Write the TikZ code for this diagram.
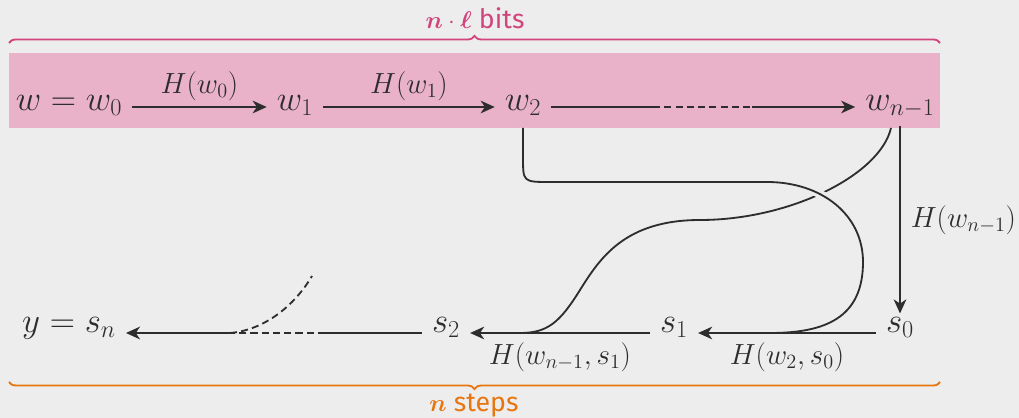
\documentclass[tikz,border=0pt]{standalone}
\usepackage{amsmath}
\usepackage[no-math]{fontspec}
\newfontfamily\labelfont{Fira Sans}
\usetikzlibrary{arrows.meta,decorations.pathreplacing,calc}

\definecolor{bgcol}{RGB}{237,237,237}
\definecolor{bandpink}{RGB}{233,178,200}
\definecolor{bitsmagenta}{RGB}{210,68,124}
\definecolor{stepsorange}{RGB}{232,118,16}
\definecolor{ink}{RGB}{45,45,45}

\tikzset{
  value/.style={text=ink, font=\fontsize{26}{31}\selectfont, inner sep=7pt},
  toprow/.style={value, text height=9pt, text depth=4.3pt},
  botrow/.style={value, text height=6pt, text depth=7.4pt},
  hash/.style={text=ink, font=\fontsize{21.5}{25}\selectfont, inner sep=4pt},
  link/.style={draw=ink, line width=1.3pt},
  hop/.style={link, -{Stealth[length=10pt,width=9pt,inset=3pt]}},
  gap/.style={link, dash pattern=on 5pt off 3pt},
  span/.style={line width=1.3pt, decorate, decoration={brace, amplitude=5pt}},
  tally/.style={font=\fontsize{19}{23}\selectfont\labelfont, anchor=base, inner sep=0pt},
}

\begin{document}
\begin{tikzpicture}[x=0.025cm,y=-0.025cm]
\fill[bgcol] (0,0) rectangle (1019,418);
\useasboundingbox (0,0) rectangle (1019,418);
\fill[bandpink] (9,53) rectangle (940,128);
\coordinate (bandbot) at (0,128);

% chain of words
\node[toprow] (wzero) at (69,107) {$w = w_0$};
\node[toprow] (wone) at (295,107) {$w_1$};
\node[toprow] (wtwo) at (523,107) {$w_2$};
\node[toprow] (wlast) at (900,107) {$w_{n-1}$};

% chain of states
\node[botrow] (sn) at (69,333) {$y = s_n$};
\node[botrow] (stwo) at (446,333) {$s_2$};
\node[botrow] (sone) at (674,333) {$s_1$};
\node[botrow] (szero) at (900,333) {$s_0$};

% words feeding the states
\coordinate (joinA) at (770,333);
\coordinate (joinB) at (520,333);
\draw[link] ($(wlast |- bandbot)+(-9,0)$) .. controls (880,175) and (790,220) .. (700,220)
  .. controls (625,220) and (600,258) .. (580,290)
  .. controls (560,322) and (548,333) .. (joinB);
\draw[link, preaction={draw=bgcol, line width=6pt}] (wtwo |- bandbot) -- (523,157)
  .. controls (523,182) .. (550,182) -- (767,182)
  .. controls (822,182) and (863,215) .. (863,262)
  .. controls (863,318) and (825,333) .. (joinA);

% top arrows
\draw[hop] (wzero) -- node[hash, above] (hzero) {$H(w_0)$} (wone);
\draw[hop] (wone) -- node[hash, above] (hone) {$H(w_1)$} (wtwo);
\coordinate (ta) at (653,107);
\coordinate (tb) at (752,107);
\draw[link] (wtwo) -- (ta);
\draw[gap] (ta) -- (tb);
\draw[hop] (tb) -- (wlast);
\draw[hop] (wlast) -- node[hash, right, xshift=3pt] (hlast) {$H(w_{n-1})$} (szero);

% bottom arrows
\draw[hop] (szero) -- node[hash, below, yshift=-2pt] (hszero) {$H(w_2, s_0)$} (sone);
\draw[hop] (sone) -- node[hash, below, yshift=-2pt] (hsone) {$H(w_{n-1}, s_1)$} (stwo);
\coordinate (ba) at (325,333);
\coordinate (bb) at (230,333);
\coordinate (tailend) at (312,276);
\draw[link] (stwo) -- (ba);
\draw[gap] (ba) -- (bb);
\draw[hop] (bb) -- (sn);
\draw[gap] (bb) .. controls (265,330) and (295,305) .. (tailend);

% braces
\coordinate (topl) at (9,43);
\coordinate (topr) at (940,43);
\coordinate (botl) at (9,382);
\coordinate (botr) at (940,382);
\draw[span, bitsmagenta] (topl) -- (topr);
\draw[span, stepsorange] (botr) -- (botl);
\node[tally, text=bitsmagenta] (bits) at (475,29) {$\boldsymbol{n}\cdot\boldsymbol{\ell}$ bits};
\node[tally, text=stepsorange] (steps) at (474,412) {$\boldsymbol{n}$ steps};
\end{tikzpicture}
\end{document}
